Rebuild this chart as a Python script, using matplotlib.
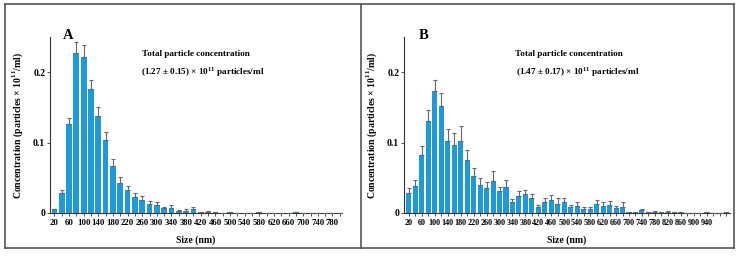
import numpy as np
import matplotlib.pyplot as plt
from matplotlib.lines import Line2D

plt.rcParams['font.family'] = ['Liberation Serif', 'DejaVu Serif']
plt.rcParams['font.weight'] = 'bold'
plt.rcParams['mathtext.fontset'] = 'custom'
plt.rcParams['mathtext.bf'] = 'Liberation Serif:bold'
plt.rcParams['mathtext.rm'] = 'Liberation Serif:bold'

# Panel A: 20-nm bins, 20..800 nm
sizes_a = np.arange(20, 801, 20)
conc_a = [0.005, 0.028, 0.126, 0.227, 0.221, 0.176, 0.138, 0.103, 0.067, 0.043,
          0.033, 0.023, 0.019, 0.013, 0.011, 0.0066, 0.0066, 0.003, 0.003, 0.005,
          0.001, 0.002, 0.001, 0.0, 0.001, 0.0, 0.0, 0.0, 0.001, 0.0,
          0.0, 0.0, 0.0, 0.001, 0.0, 0.0, 0.0, 0.0, 0.0, 0.0]
err_a = [0.001, 0.004, 0.009, 0.016, 0.018, 0.013, 0.012, 0.012, 0.010, 0.008,
         0.006, 0.005, 0.005, 0.004, 0.004, 0.002, 0.0045, 0.001, 0.003, 0.003,
         0.0, 0.001, 0.0, 0.0, 0.0, 0.0, 0.0, 0.0, 0.0, 0.0,
         0.0, 0.0, 0.0, 0.0, 0.0, 0.0, 0.0, 0.0, 0.0, 0.0]

# Panel B: 20-nm bins, 20..1000 nm
sizes_b = np.arange(20, 1001, 20)
conc_b = [0.028, 0.038, 0.083, 0.131, 0.174, 0.152, 0.102, 0.097, 0.102, 0.075,
          0.053, 0.040, 0.036, 0.046, 0.031, 0.037, 0.016, 0.024, 0.027, 0.021,
          0.009, 0.016, 0.019, 0.013, 0.016, 0.008, 0.010, 0.006, 0.006, 0.013,
          0.010, 0.011, 0.007, 0.009, 0.001, 0.002, 0.004, 0.002, 0.002, 0.002,
          0.002, 0.002, 0.001, 0.0005, 0.0005, 0.0, 0.001, 0.0, 0.0, 0.002]
err_b = [0.008, 0.009, 0.012, 0.015, 0.015, 0.018, 0.018, 0.016, 0.022, 0.015,
         0.011, 0.010, 0.008, 0.014, 0.006, 0.010, 0.004, 0.007, 0.006, 0.006,
         0.003, 0.005, 0.006, 0.008, 0.006, 0.004, 0.005, 0.002, 0.002, 0.005,
         0.005, 0.006, 0.003, 0.007, 0.0, 0.0, 0.002, 0.0, 0.001, 0.0,
         0.001, 0.0, 0.0, 0.0, 0.0, 0.0, 0.0, 0.0, 0.0, 0.0]

totals = ['(1.27 ± 0.15) × 10$^{\\mathbf{11}}$ particles/ml',
          '(1.47 ± 0.17) × 10$^{\\mathbf{11}}$ particles/ml']

W, H = 739, 256
fig = plt.figure(figsize=(W / 100, H / 100), dpi=100)


def px_axes(x0, y_top, x1, y_bot):
    return fig.add_axes([x0 / W, 1 - y_bot / H, (x1 - x0) / W, (y_bot - y_top) / H])


def panel(ax, sizes, conc, err, letter, total, xlim, label_max, xfs):
    idx = np.arange(len(sizes))
    ax.bar(idx, conc, width=0.78, color='#1f9ad8', zorder=2)
    ax.errorbar(idx, conc, yerr=[np.zeros(len(err)), err], fmt='none',
                ecolor='#666666', elinewidth=0.8, capsize=1.5, capthick=0.8, zorder=3)
    ax.set_xlim(*xlim)
    ax.set_ylim(0, 0.25)
    ax.set_yticks([0, 0.1, 0.2])
    ax.set_yticklabels(['0', '0.1', '0.2'])
    lab = [i for i in idx if i % 2 == 0 and sizes[i] <= label_max]
    ax.set_xticks(lab)
    ax.set_xticklabels([str(sizes[i]) for i in lab])
    ax.set_xticks(idx, minor=True)
    ax.tick_params(axis='both', which='both', length=2, width=0.6,
                   color='#333333', pad=1.5)
    ax.tick_params(axis='x', labelsize=xfs, pad=2.5)
    ax.tick_params(axis='y', labelsize=7)
    for s in ['top', 'right']:
        ax.spines[s].set_visible(False)
    for s in ['left', 'bottom']:
        ax.spines[s].set_linewidth(0.8)
        ax.spines[s].set_color('#333333')
    ax.set_xlabel('Size (nm)', fontsize=7, fontweight='bold', labelpad=6)
    ax.set_ylabel('Concentration (particles × 10$^{\\mathbf{11}}$/ml)', fontsize=7,
                  fontweight='bold', labelpad=6)
    ax.text(0.045, 1.01, letter, transform=ax.transAxes, fontsize=10.5,
            fontweight='bold', va='center', ha='left')
    ax.text(0.315, 0.905, 'Total particle concentration', transform=ax.transAxes,
            fontsize=6.6, fontweight='bold', va='center')
    ax.text(0.31, 0.80, total, transform=ax.transAxes,
            fontsize=6.6, fontweight='bold', va='center')


ax_a = px_axes(50, 37, 342, 213)
panel(ax_a, sizes_a, conc_a, err_a, 'A', totals[0], (-0.6, 39.3), 780, 6.3)

ax_b = px_axes(404, 37, 730, 213)
panel(ax_b, sizes_b, conc_b, err_b, 'B', totals[1], (-0.75, 49.6), 940, 5.9)
ax_b.texts[1].set_position((0.34, 0.905))
ax_b.texts[2].set_position((0.345, 0.80))

# outer frame and divider
x0, x1 = 5 / W, 734 / W
y0, y1 = 1 - 248 / H, 1 - 4 / H
xm = 361 / W
for xs, ys in [([x0, x1], [y1, y1]), ([x0, x1], [y0, y0]), ([x0, x0], [y0, y1]),
               ([x1, x1], [y0, y1]), ([xm, xm], [y0, y1])]:
    fig.add_artist(Line2D(xs, ys, transform=fig.transFigure, color='#555555', lw=1.2))

fig.savefig('out.png', dpi=100)
